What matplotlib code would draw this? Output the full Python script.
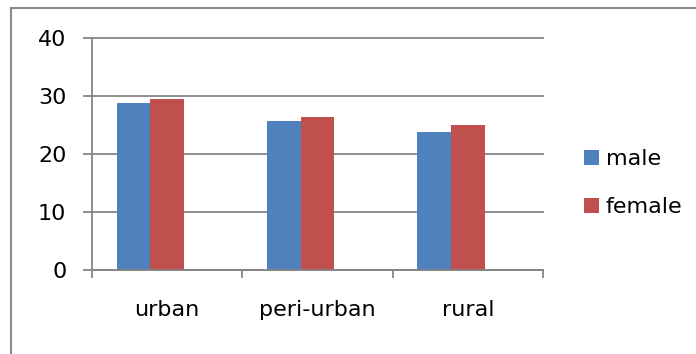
import matplotlib
matplotlib.use("Agg")
import matplotlib.pyplot as plt
import numpy as np
from matplotlib.lines import Line2D

# data
categories = ["urban", "peri-urban", "rural"]
male = [28.8, 25.7, 23.8]
female = [29.4, 26.3, 25.0]
y_ticks = [0, 10, 20, 30, 40]

BLUE = "#4F81BD"; RED = "#C0504D"; GRID = "#868686"; TXT = "#000000"

plt.rcParams["font.family"] = ["DejaVu Sans"]

fig = plt.figure(figsize=(6.96, 3.54), dpi=100, facecolor="white")
ax = fig.add_axes([92 / 696, 1 - 269.5 / 354, 451 / 696, (269.5 - 37.7) / 354])

x = np.arange(len(categories))
w = 0.224
ax.bar(x - w, male, width=w, color=BLUE, label="male")
ax.bar(x, female, width=w, color=RED, label="female")

ax.set_xlim(-0.5, len(categories) - 0.5)
ax.set_ylim(0, 40)
ax.set_yticks(y_ticks)
ax.set_yticklabels([str(v) for v in y_ticks], fontsize=16, color=TXT)
ax.yaxis.grid(True, color=GRID, linewidth=1.3)
for gl in ax.get_ygridlines():
    gl.set_clip_on(False)
ax.set_axisbelow(True)

ax.set_xticks(x)
ax.set_xticklabels(categories, fontsize=16, color=TXT)
ax.set_xticks(np.arange(len(categories) + 1) - 0.5, minor=True)
ax.tick_params(axis="x", which="major", length=0, pad=22)
ax.tick_params(axis="x", which="minor", length=5.5, width=1.3, color=GRID)
ax.tick_params(axis="y", length=6.5, width=1.3, color=GRID, pad=12)

for s in ["top", "right"]:
    ax.spines[s].set_visible(False)
for s in ["left", "bottom"]:
    ax.spines[s].set_color(GRID)
    ax.spines[s].set_linewidth(1.3)

leg = ax.legend(loc="upper left", bbox_to_anchor=(584 / 696, 1 - 149 / 354),
                bbox_transform=fig.transFigure, frameon=False, fontsize=16,
                handlelength=0.68, handleheight=0.68, handletextpad=0.3,
                labelspacing=1.27, borderpad=0, borderaxespad=0)

# outer chart border
fig.add_artist(Line2D([11 / 696, 1], [1 - 8 / 354, 1 - 8 / 354],
                      transform=fig.transFigure, color="#8a8a8a", linewidth=1.5))
fig.add_artist(Line2D([11 / 696, 11 / 696], [0, 1 - 8 / 354],
                      transform=fig.transFigure, color="#8a8a8a", linewidth=1.5))

fig.savefig("out.png", dpi=100, facecolor="white")
